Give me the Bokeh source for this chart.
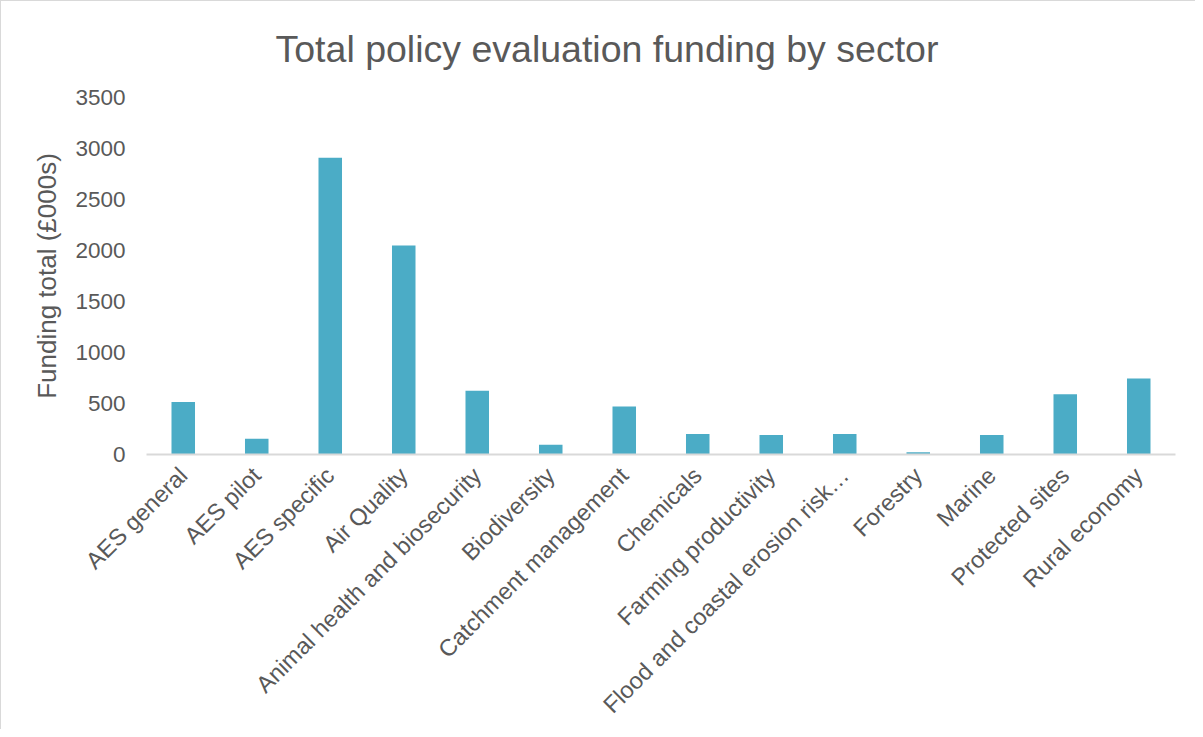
from bokeh.plotting import figure
from bokeh.models import Range1d, FixedTicker, ColumnDataSource
from bokeh.embed import file_html
from bokeh.resources import INLINE
import math

categories = [
    "AES general", "AES pilot", "AES specific", "Air Quality",
    "Animal health and biosecurity", "Biodiversity", "Catchment management",
    "Chemicals", "Farming productivity", "Flood and coastal erosion risk\u2026",
    "Forestry", "Marine", "Protected sites", "Rural economy",
]
funding = [515, 155, 2910, 2050, 625, 95, 470, 200, 190, 200, 22, 190, 590, 745]
y_ticks = [0, 500, 1000, 1500, 2000, 2500, 3000, 3500]
title_text = "Total policy evaluation funding by sector"

FONT = "Liberation Sans"
TXT = "#595959"

src = ColumnDataSource(dict(cat=categories, val=funding))

p = figure(
    x_range=categories, y_range=Range1d(0, 3500),
    width=1195, height=729, output_backend="svg", toolbar_location=None,
    min_border_left=145, min_border_right=21, min_border_top=96, min_border_bottom=276,
    title=title_text,
)
p.styles = {"border-top": "1px solid #d9d9d9", "border-left": "1px solid #d9d9d9"}
p.x_range.range_padding = 0
p.vbar(x="cat", top="val", width=0.32, source=src, color="#4BACC6", line_color=None)

p.title.align = "left"
p.title.offset = 129
p.title.text_font = FONT
p.title.text_font_size = "37.5px"
p.title.text_font_style = "normal"
p.title.text_color = TXT
p.title.vertical_align = "top"
p.title.standoff = 51

p.outline_line_color = None
p.xgrid.grid_line_color = None
p.ygrid.grid_line_color = None
p.background_fill_color = "white"
p.border_fill_color = "white"

ya = p.yaxis[0]
ya.ticker = FixedTicker(ticks=y_ticks)
ya.axis_line_color = None
ya.major_tick_line_color = None
ya.minor_tick_line_color = None
ya.major_tick_out = 0
ya.major_label_standoff = 21
ya.major_label_text_font = FONT
ya.major_label_text_font_size = "22.5px"
ya.major_label_text_color = TXT
ya.axis_label = "Funding total (\u00a3000s)"
ya.axis_label_text_font = FONT
ya.axis_label_text_font_size = "26px"
ya.axis_label_text_font_style = "normal"
ya.axis_label_text_color = TXT
ya.axis_label_standoff = 10

xa = p.xaxis[0]
xa.axis_line_color = "#d9d9d9"
xa.axis_line_width = 2
xa.major_tick_line_color = None
xa.minor_tick_line_color = None
xa.major_tick_out = 0
xa.major_label_standoff = 17
xa.major_label_orientation = math.pi / 4
xa.major_label_text_font = FONT
xa.major_label_text_font_size = "23.5px"
xa.major_label_text_color = TXT

open("out.html", "w").write(file_html(p, INLINE))
